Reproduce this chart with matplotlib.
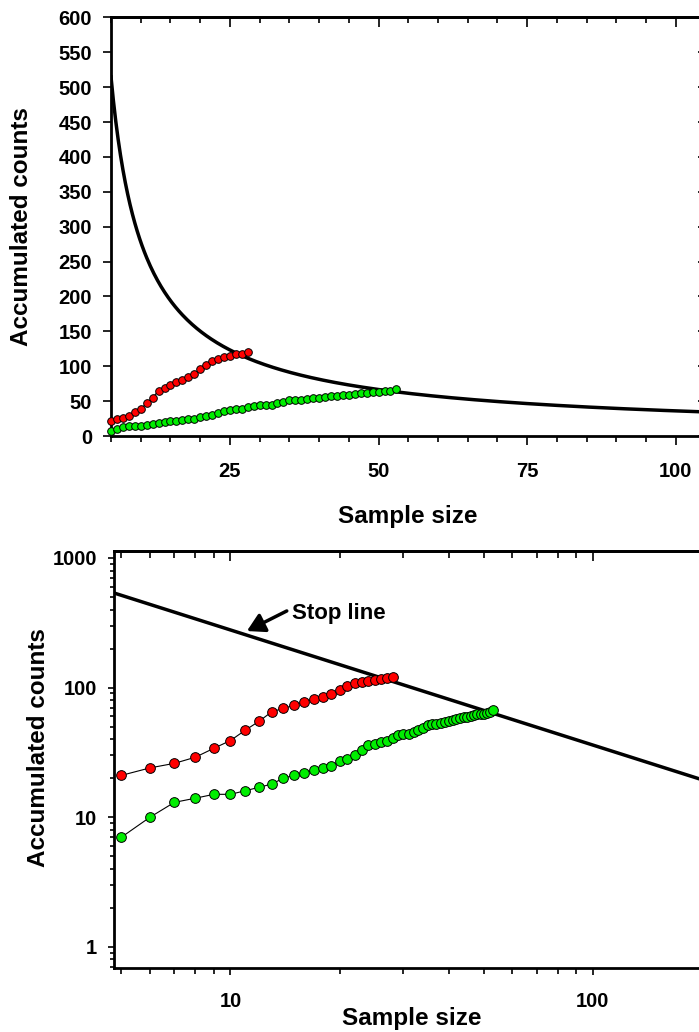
import numpy as np
import matplotlib.pyplot as plt
from matplotlib.ticker import MultipleLocator, FixedLocator, LogLocator, NullFormatter, FuncFormatter

plt.rcParams['font.family'] = ['Liberation Sans', 'DejaVu Sans']
plt.rcParams['font.weight'] = 'bold'

# accumulated counts per sample size
sample_red = list(range(5, 29))
counts_red = [21, 24, 26, 29, 34, 39, 47, 55, 65, 69,
              73, 78, 81, 85, 89, 96, 102, 108, 110, 113,
              115, 117, 118, 121]
sample_green = list(range(5, 54))
counts_green = [7, 10, 13, 14, 15, 15, 16, 17, 18, 20,
                21, 22, 23, 24, 25, 27, 28, 30, 33, 36,
                37, 38, 39, 41, 43, 44, 44, 45, 47, 49,
                51, 52, 52, 53, 54, 55, 56, 57, 58, 59,
                59, 60, 61, 62, 63, 63, 64, 65, 67]

# stop line: counts = coef * n^-exp
stop_coef = 2150
stop_exp = 0.888

W, H = 699, 1032
fig = plt.figure(figsize=(W / 100, H / 100), dpi=100)

red_kw = dict(color='black', lw=0.8, marker='o', mfc='#ff0000', mec='black', mew=0.7, clip_on=False, zorder=3)
green_kw = dict(color='black', lw=0.8, marker='o', mfc='#00ee00', mec='black', mew=0.7, clip_on=False, zorder=3)
TICK_FS = 14.5

# ---- top panel, linear
ax1 = fig.add_axes([111 / W, 1 - 436 / H, 594 / W, 418.5 / H])
xc = np.linspace(5, 105, 500)
ax1.plot(xc, stop_coef * xc ** -stop_exp, color='black', lw=2.5, zorder=2)
ax1.plot(sample_red, counts_red, ms=5.5, **red_kw)
ax1.plot(sample_green, counts_green, ms=5.5, **green_kw)
ax1.set_xlim(5, 104.9)
ax1.set_ylim(0, 600)
ax1.xaxis.set_major_locator(FixedLocator([25, 50, 75, 100]))
ax1.xaxis.set_minor_locator(MultipleLocator(5))
ax1.yaxis.set_major_locator(MultipleLocator(50))
ax1.tick_params(axis='x', which='major', direction='out', length=6.5, width=1.2, pad=12, labelsize=TICK_FS)
ax1.tick_params(axis='x', which='minor', direction='out', length=4.3, width=1.2)
ax1.tick_params(axis='y', which='major', direction='out', length=6, width=1.2, pad=7.5, labelsize=TICK_FS)
for s in ax1.spines.values():
    s.set_linewidth(2)

t1 = ax1.secondary_xaxis('top')
t1.xaxis.set_major_locator(FixedLocator([25, 50, 75, 100]))
t1.xaxis.set_minor_locator(MultipleLocator(5))
t1.xaxis.set_major_formatter(NullFormatter())
t1.tick_params(which='major', direction='in', length=7, width=1.2)
t1.tick_params(which='minor', direction='in', length=4.3, width=1.2)
t1.spines['top'].set_linewidth(2)
r1 = ax1.secondary_yaxis('right')
r1.yaxis.set_major_locator(MultipleLocator(50))
r1.yaxis.set_major_formatter(NullFormatter())
r1.tick_params(which='major', direction='in', length=5, width=1.2)
r1.spines['right'].set_linewidth(2)

# ---- bottom panel, log-log
ax2 = fig.add_axes([114 / W, 1 - 968 / H, 591 / W, 417 / H])
ax2.set_xscale('log')
ax2.set_yscale('log')
xl = np.linspace(4.7, 210, 50)
ax2.plot(xl, stop_coef * xl ** -stop_exp, color='black', lw=2.5, zorder=2)
ax2.plot(sample_red, counts_red, ms=7, **red_kw)
ax2.plot(sample_green, counts_green, ms=7, **green_kw)
ax2.set_xlim(4.77, 204)
ax2.set_ylim(0.685, 1132)
plain = FuncFormatter(lambda v, p: f'{v:g}')
for axis in (ax2.xaxis, ax2.yaxis):
    axis.set_major_locator(LogLocator(base=10))
    axis.set_minor_locator(LogLocator(base=10, subs=range(2, 10)))
    axis.set_major_formatter(plain)
    axis.set_minor_formatter(NullFormatter())
ax2.tick_params(axis='x', which='major', direction='out', length=5, width=1.2, pad=12.5, labelsize=TICK_FS)
ax2.tick_params(axis='x', which='minor', direction='out', length=4.3, width=1.2)
ax2.tick_params(axis='y', which='major', direction='out', length=4.3, width=1.2, pad=8, labelsize=TICK_FS)
ax2.tick_params(axis='y', which='minor', direction='out', length=2.9, width=1.2)
for s in ax2.spines.values():
    s.set_linewidth(2)

t2 = ax2.secondary_xaxis('top')
t2.xaxis.set_major_locator(LogLocator(base=10))
t2.xaxis.set_minor_locator(LogLocator(base=10, subs=range(2, 10)))
t2.xaxis.set_major_formatter(NullFormatter())
t2.xaxis.set_minor_formatter(NullFormatter())
t2.tick_params(which='major', direction='in', length=7, width=1.2)
t2.tick_params(which='minor', direction='in', length=5, width=1.2)
t2.spines['top'].set_linewidth(2)

ax2.annotate('', xy=(11.1, 273), xytext=(14.3, 390),
             arrowprops=dict(arrowstyle='-|>,head_length=0.7,head_width=0.4', lw=2.5,
                             color='black', shrinkA=0, shrinkB=0, mutation_scale=15))
ax2.text(14.8, 370, 'Stop line', fontsize=16, fontweight='bold', ha='left', va='center')

# axis titles
fig.text(22 / W, 1 - 227 / H, 'Accumulated counts', rotation=90, fontsize=17.5,
         fontweight='bold', ha='center', va='center')
fig.text(408 / W, 1 - 517 / H, 'Sample size', fontsize=17.5, fontweight='bold', ha='center', va='center')
fig.text(39 / W, 1 - 748 / H, 'Accumulated counts', rotation=90, fontsize=17.5,
         fontweight='bold', ha='center', va='center')
fig.text(412 / W, 1 - 1019 / H, 'Sample size', fontsize=17.5, fontweight='bold', ha='center', va='center')

fig.savefig('out.png', dpi=100)
